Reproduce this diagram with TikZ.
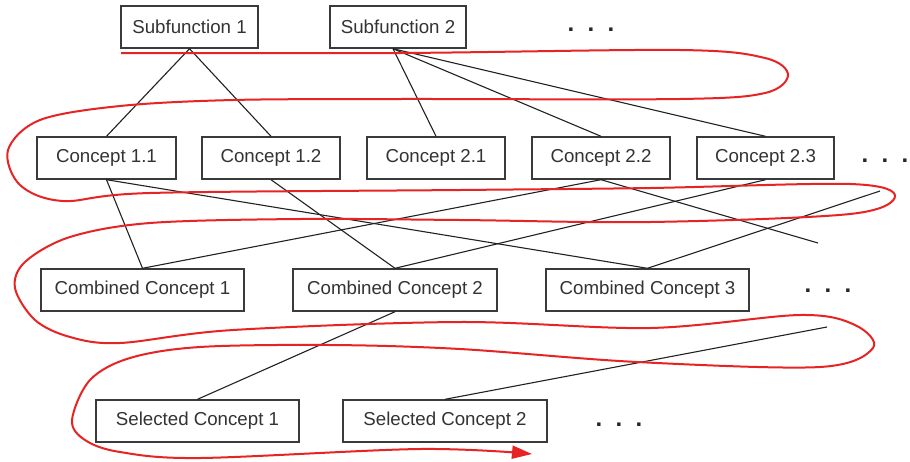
\documentclass[tikz,border=0pt]{standalone}
\usepackage{fontspec}
\setmainfont{Liberation Sans}
\usetikzlibrary{arrows.meta}
\definecolor{boxgray}{HTML}{3A3A3A}
\definecolor{textgray}{HTML}{333333}
\definecolor{linkgray}{HTML}{222222}
\definecolor{flowred}{HTML}{E62424}
\begin{document}
\begin{tikzpicture}[x=1pt,y=-1pt,
  box/.style={draw=boxgray, line width=1.4pt, minimum height=42pt, inner sep=0pt,
    text=textgray, font=\fontsize{18.7}{22}\selectfont},
  link/.style={draw=linkgray, line width=1.1pt},
  more/.style={text=black!85, anchor=base, inner sep=0pt, font=\fontsize{24}{26}\selectfont\bfseries},
  flow/.style={draw=flowred, line width=2pt, -{Triangle[length=20pt,width=13pt]}}
]
\fill[white] (0,0) rectangle (910,461);
\useasboundingbox (0,0) rectangle (910,461);

% subfunctions
\node[box, minimum width=137pt] (s1) at (189.5,27) {Subfunction 1};
\node[box, minimum width=136pt] (s2) at (398,27) {Subfunction 2};
\node[more] (d1) at (591,31) {.\hspace{13.3pt}.\hspace{13.3pt}.};

% concepts
\node[box, minimum width=139pt] (c11) at (106.5,158) {Concept 1.1};
\node[box, minimum width=138pt] (c12) at (271,158) {Concept 1.2};
\node[box, minimum width=138pt] (c21) at (436,158) {Concept 2.1};
\node[box, minimum width=138pt] (c22) at (601,158) {Concept 2.2};
\node[box, minimum width=137pt] (c23) at (765.5,158) {Concept 2.3};
\node[more] (d2) at (885,162) {.\hspace{13.3pt}.\hspace{13.3pt}.};

% combined concepts
\node[box, minimum width=203pt] (cc1) at (142.5,290) {Combined Concept 1};
\node[box, minimum width=204pt] (cc2) at (395,290) {Combined Concept 2};
\node[box, minimum width=203pt] (cc3) at (647.5,290) {Combined Concept 3};
\node[more] (d3) at (828,292) {.\hspace{13.3pt}.\hspace{13.3pt}.};

% selected concepts
\node[box, minimum width=203pt] (sc1) at (197.5,421) {Selected Concept 1};
\node[box, minimum width=204pt] (sc2) at (445,421) {Selected Concept 2};
\node[more] (d4) at (619,426) {.\hspace{13.3pt}.\hspace{13.3pt}.};

% open ends of further links
\coordinate (e1) at (818,243);
\coordinate (e2) at (880,191);
\coordinate (e3) at (827,327);
\coordinate (s2b) at ([xshift=-5pt]s2.south);

% links
\draw[link] (s1.south) -- (c11.north);
\draw[link] (s1.south) -- (c12.north);
\draw[link] (s2b) -- (c21.north);
\draw[link] (s2b) -- (c22.north);
\draw[link] (s2b) -- (c23.north);
\draw[link] (c11.south) -- (cc1.north);
\draw[link] (c11.south) -- (cc3.north);
\draw[link] (c12.south) -- (cc2.north);
\draw[link] (c22.south) -- (cc1.north);
\draw[link] (c22.south) -- (e1);
\draw[link] (c23.south) -- (cc2.north);
\draw[link] (cc3.north) -- (e2);
\draw[link] (cc2.south) -- (sc1.north);
\draw[link] (sc2.north) -- (e3);

% search path
\draw[flow] plot[smooth, tension=0.55] coordinates {
  (121,53) (400,53) (680,50) (765,58) (788,75) (765,93) (680,99) (400,99)
  (233,100) (120,106) (40,120) (8,150) (20,185) (63,201) (150,193)
  (460,190) (650,188) (850,184) (895,196) (850,214) (650,222) (460,220)
  (300,219) (150,223) (70,237) (25,262) (15,288) (35,320) (70,337)
  (120,343) (233,330) (460,322) (650,328) (800,315) (855,325) (873,348)
  (820,367) (637,362) (460,349) (330,345) (200,347) (130,358) (90,380)
  (72,420) (85,440) (120,452) (200,458) (420,449) (532,454)};
\end{tikzpicture}
\end{document}
